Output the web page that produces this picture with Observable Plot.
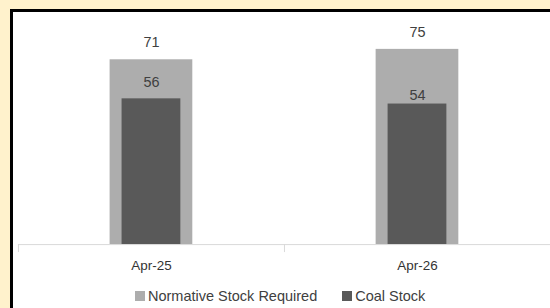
<!DOCTYPE html>
<html>
<head>
<meta charset="utf-8">
<script src="https://cdn.jsdelivr.net/npm/d3@7"></script>
<script src="https://cdn.jsdelivr.net/npm/@observablehq/plot@0.6"></script>
<style>
  html, body { margin: 0; padding: 0; }
  body { width: 550px; height: 308px; overflow: hidden; position: relative; background: #fff2cc; font-family: "Liberation Sans", Arial, sans-serif; }
  #panel { position: absolute; left: 10px; top: 9px; width: 600px; height: 400px; background: #fff; border-left: 3px solid #000; border-top: 3px solid #000; }
  #chart { position: absolute; left: 0; top: 0; }
  #legend { position: absolute; left: 135px; top: 288px; display: flex; gap: 25px; font-size: 14.5px; color: #404040; line-height: 16px; }
  .item { display: flex; align-items: center; gap: 3px; }
  .sw { width: 10px; height: 10px; display: inline-block; }
</style>
</head>
<body>
<div id="panel"></div>
<div id="chart"></div>
<div id="legend"></div>
<script>
const categories = ["Apr-25", "Apr-26"];
const normative = [71, 75];
const coalStock = [56, 54];
const seriesNames = ["Normative Stock Required", "Coal Stock"];
const seriesColors = ["#adadad", "#595959"];

const normRows = categories.map((c, i) => ({month: c, value: normative[i]}));
const coalRows = categories.map((c, i) => ({month: c, value: coalStock[i]}));

const W = 552, H = 282, mL = 18, mR = 0, mT = 36, mB = 37;
const band = (W - mL - mR) / categories.length;
const textColor = "#404040";

const chart = Plot.plot({
  width: W,
  height: H,
  marginLeft: mL,
  marginRight: mR,
  marginTop: mT,
  marginBottom: mB,
  style: {fontFamily: "'Liberation Sans', Arial, sans-serif", background: "transparent", overflow: "visible"},
  x: {domain: categories, padding: 0, axis: null},
  y: {domain: [0, 80], axis: null},
  marks: [
    Plot.barY(normRows, {x: "month", y: "value", fill: seriesColors[0], insetLeft: (band - 83) / 2, insetRight: (band - 83) / 2}),
    Plot.barY(coalRows, {x: "month", y: "value", fill: seriesColors[1], insetLeft: (band - 59) / 2, insetRight: (band - 59) / 2}),
    Plot.ruleY([0], {stroke: "#d9d9d9", strokeWidth: 1}),
    Plot.ruleX(categories, {x: d => d, y1: 0, y2: 0, insetBottom: -8, dx: -band / 2, stroke: "#d9d9d9"}),
    Plot.axisX({tickSize: 0, tickPadding: 16, fontSize: 13.5, fill: "#333333", label: null}),
    Plot.text(normRows, {x: "month", y: "value", text: d => String(d.value), dy: -17, fontSize: 14.5, fill: textColor}),
    Plot.text(coalRows.filter((d, i) => i === 0), {x: "month", y: "value", text: d => String(d.value), dy: -17, fontSize: 14.5, fill: textColor}),
    Plot.text(coalRows.filter((d, i) => i === 1), {x: "month", y: "value", text: d => String(d.value), dy: -9, fontSize: 14.5, fill: textColor})
  ]
});
document.getElementById("chart").appendChild(chart);

const legend = document.getElementById("legend");
seriesNames.forEach((name, i) => {
  const item = document.createElement("span");
  item.className = "item";
  const sw = document.createElement("span");
  sw.className = "sw";
  sw.style.background = seriesColors[i];
  const t = document.createElement("span");
  t.textContent = name;
  item.appendChild(sw);
  item.appendChild(t);
  legend.appendChild(item);
});
</script>
</body>
</html>
